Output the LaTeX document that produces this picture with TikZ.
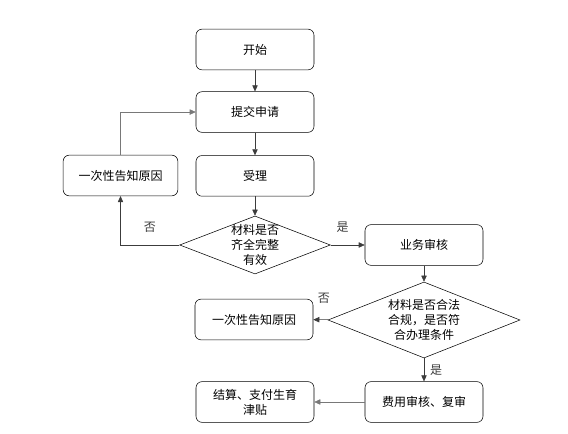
\documentclass[tikz,border=0pt]{standalone}
\usepackage{fontspec}
\setmainfont{Noto Sans CJK SC}
\usetikzlibrary{arrows.meta, positioning, shapes.geometric}
\definecolor{linec}{RGB}{60, 60, 60}
\definecolor{loopc}{RGB}{120, 120, 120}

\begin{document}
\begin{tikzpicture}[x=0.75pt, y=-0.75pt,
  box/.style={draw, rounded corners=4.5pt, minimum width=88.5pt, minimum height=30.5pt, align=center, font=\fontsize{9}{11.25}\selectfont},
  dia/.style={draw, diamond, inner sep=0pt},
  txt/.style={align=center, font=\fontsize{9}{11.25}\selectfont},
  arr/.style={-{Triangle[length=4.5pt, width=4pt]}, linec},
  every label/.style={txt}
]
\useasboundingbox (0,0) rectangle (568,434);
\node[box] (start) at (255,49.5) {开始};
\node[box, below=16pt of start] (submit) {提交申请};
\node[box, below=17pt of submit] (accept) {受理};
\node[box, minimum width=86pt] (reason) at (120.5,175.5) {一次性告知原因};
\node[dia, minimum width=113pt, minimum height=43.5pt,
  label=center:{材料是否\\齐全完整\\有效}] (check) at (255,245) {};
\node[box] (review) at (424,245) {业务审核};
\node[dia, minimum width=144pt, minimum height=57pt,
  label=center:{材料是否合法\\合规，是否符\\合办理条件}] (legal) at (424,320) {};
\node[box] (notify) at (254,319.5) {一次性告知原因};
\node[box] (fee) at (424,402) {费用审核、复审};
\node[box] (settle) at (255,402) {结算、支付生育\\津贴};
\draw[arr] (start) -- (submit);
\draw[arr] (submit) -- (accept);
\draw[arr] (accept) -- (check);
\draw[arr] (check) -- node[txt, above=6pt, pos=0.35] {是} (review);
\draw[arr] (check) -| node[txt, above=6pt, pos=0.25] {否} (reason);
\draw[arr, loopc] (reason) |- (submit);
\draw[arr] (review) -- (legal);
\draw[arr] (legal) -- node[txt, above=9pt, pos=0.3] {否} (notify);
\draw[arr] (legal) -- node[txt, right=1pt] {是} (fee);
\draw[arr, loopc] (fee) -- (settle);
\end{tikzpicture}
\end{document}
